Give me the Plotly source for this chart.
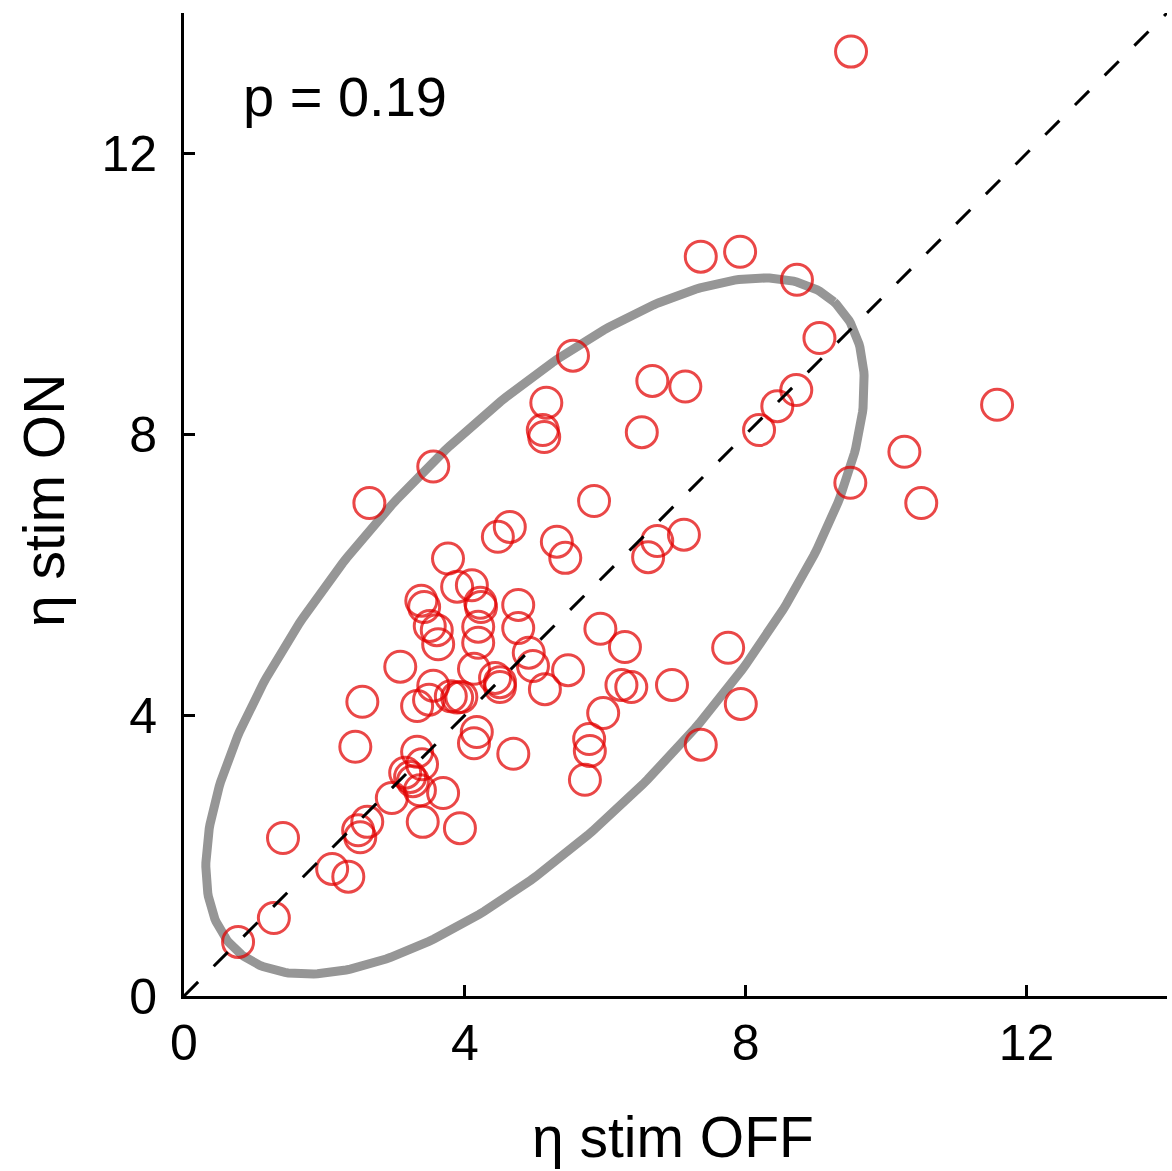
import numpy as np
import plotly.graph_objects as go

# eta values
stim_off = [9.50, 7.36, 7.92, 8.73, 9.05, 5.54, 6.67, 7.14, 8.72, 8.45,
            11.58, 5.16, 5.11, 5.13, 6.52, 8.19, 10.26, 3.55, 9.49, 10.50,
            2.64, 5.84, 4.47, 4.64, 5.31, 5.43, 6.74, 6.61, 7.12, 3.76,
            3.89, 4.10, 3.38, 3.42, 4.22, 4.23, 4.76, 3.50, 3.60, 4.19,
            4.76, 5.93, 3.62, 4.19, 6.28, 3.08, 4.91, 4.97, 5.47, 4.13,
            4.43, 4.50, 4.50, 3.55, 3.49, 3.32, 3.80, 3.89, 3.95, 2.54,
            5.14, 6.23, 6.37, 6.95, 5.97, 7.75, 7.93, 7.36, 5.77, 5.78,
            5.71, 4.17, 4.13, 4.69, 2.44, 3.32, 3.39, 3.15, 3.22, 3.26,
            3.36, 2.96, 3.69, 3.40, 3.93, 2.61, 2.48, 2.51, 1.41, 2.11,
            2.34, 1.28, 0.77]
stim_on = [13.45, 10.53, 10.60, 10.20, 9.37, 9.12, 8.76, 8.68, 8.63, 8.40,
           8.42, 8.45, 8.06, 7.96, 8.03, 8.06, 7.75, 7.54, 7.31, 7.02,
           7.02, 7.05, 6.54, 6.68, 6.47, 6.24, 6.48, 6.25, 6.57, 6.23,
           5.83, 5.85, 5.63, 5.54, 5.60, 5.54, 5.57, 5.27, 5.21, 5.26,
           5.24, 5.23, 5.01, 5.03, 4.97, 4.69, 4.89, 4.70, 4.64, 4.66,
           4.53, 4.47, 4.40, 4.42, 4.22, 4.13, 4.27, 4.25, 4.26, 4.19,
           4.37, 4.43, 4.40, 4.43, 4.03, 4.96, 4.16, 3.58, 3.66, 3.49,
           3.08, 3.76, 3.60, 3.45, 3.55, 3.48, 3.30, 3.18, 3.12, 3.06,
           2.93, 2.82, 2.89, 2.48, 2.39, 2.48, 2.36, 2.26, 2.25, 1.81,
           1.70, 1.11, 0.77]

# ellipse parameters (center, semi-axes, rotation in degrees)
ell_center = (5.0, 5.27)
ell_axes = (6.28, 2.67)
ell_angle = 47.3

identity = [0, 14]
tick_vals = [0, 4, 8, 12]
tick_text = ["0", "4", "8", "12"]
p_label = "p = 0.19"

t = np.linspace(0, 2 * np.pi, 400)
th = np.deg2rad(ell_angle)
ex = ell_center[0] + ell_axes[0] * np.cos(t) * np.cos(th) - ell_axes[1] * np.sin(t) * np.sin(th)
ey = ell_center[1] + ell_axes[0] * np.cos(t) * np.sin(th) + ell_axes[1] * np.sin(t) * np.cos(th)

FONT = "Arial, Liberation Sans, sans-serif"

fig = go.Figure()
fig.add_trace(go.Scatter(x=ex, y=ey, mode="lines",
                         line=dict(color="rgb(150,150,150)", width=9),
                         hoverinfo="skip", showlegend=False))
fig.add_trace(go.Scatter(x=stim_off, y=stim_on, mode="markers",
                         marker=dict(symbol="circle-open", size=31,
                                     color="rgba(226,0,0,0.72)",
                                     line=dict(width=3)),
                         showlegend=False))
fig.add_trace(go.Scatter(x=identity, y=identity, mode="lines",
                         line=dict(color="black", width=3, dash="20px,22px"),
                         hoverinfo="skip", showlegend=False))

axis_common = dict(range=[0, 14], tickvals=tick_vals, ticktext=tick_text,
                   ticks="inside", ticklen=11, tickwidth=2.5, tickcolor="black",
                   showline=True, linecolor="black", linewidth=3,
                   showgrid=False, zeroline=False,
                   tickfont=dict(family=FONT, size=50, color="black"))

fig.update_layout(
    width=1172, height=1171,
    margin=dict(l=184, r=5, t=13, b=175),
    paper_bgcolor="white", plot_bgcolor="white",
    xaxis=dict(**axis_common, ticklabelstandoff=1),
    yaxis=dict(**axis_common, ticklabelstandoff=14),
    annotations=[
        dict(text="η stim OFF", xref="paper", yref="paper", x=0.497, y=-0.143,
             xanchor="center", yanchor="middle", showarrow=False,
             font=dict(family=FONT, size=57, color="black")),
        dict(text="η stim ON", xref="paper", yref="paper", x=-0.143, y=0.504,
             xanchor="center", yanchor="middle", showarrow=False, textangle=-90,
             font=dict(family=FONT, size=57, color="black")),
        dict(text=p_label, xref="paper", yref="paper", x=0.058, y=0.915,
             xanchor="left", yanchor="middle", showarrow=False,
             font=dict(family=FONT, size=56, color="black")),
    ],
)

fig.write_html("out.html")
